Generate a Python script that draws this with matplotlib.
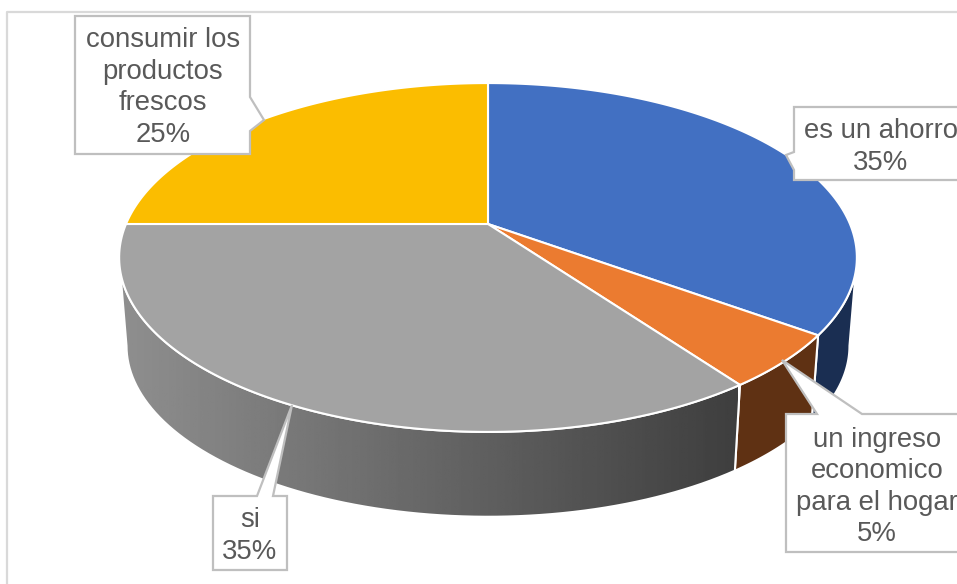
#%% Imports

import numpy as np
import matplotlib
matplotlib.use('Agg')
import matplotlib.pyplot as plt
from matplotlib.patches import Polygon

plt.rcParams['font.family'] = ['Liberation Sans', 'DejaVu Sans']

#%% Data

labels = ['es un ahorro', 'un ingreso\neconomico\npara el hogar', 'si', 'consumir los\nproductos\nfrescos']
values = [35, 5, 35, 25]
top_colors = ['#4270C2', '#EB7B30', '#A3A3A3', '#FBBD00']
side_colors = ['#1A2E52', '#5F3113', None, None]

#%% Projection of the tilted disc, axes are in pixels of the picture

cx, cy = 488, 224
rx, ry, persp = 362, 168, 0.192
depth_y, depth_s = 313, 0.98
txt_col = '#595959'
box_col = '#BFBFBF'


def top_rim(theta):
    u, v = np.sin(theta), np.cos(theta)
    w = 1 + persp * v
    return cx + rx * u / w, cy - ry * v / w


def low_rim(theta):
    x, y = top_rim(theta)
    return cx + depth_s * (x - cx), depth_y + depth_s * (y - cy)


def side_poly(t0, t1):
    t = np.linspace(t0, t1, 80)
    x0, y0 = top_rim(t)
    x1, y1 = low_rim(t)
    return np.column_stack([np.r_[x0, x1[::-1]], np.r_[y0, y1[::-1]]])


#%% Figure

fig = plt.figure(figsize=(9.57, 5.84), dpi=100)
ax = fig.add_axes([0, 0, 1, 1])
ax.set_xlim(0, 957)
ax.set_ylim(584, 0)
ax.axis('off')

# chart frame, only top and left show in the crop
ax.plot([7, 7, 957], [584, 12, 12], color='#D9D9D9', lw=1.6, zorder=1)

edges = np.r_[0, np.cumsum(values)] / np.sum(values) * 2 * np.pi
vis_start = np.arccos(-persp)
vis_end = 2 * np.pi - vis_start

#%% Side walls, only the front part can be seen

for i in range(len(values)):
    t0 = max(edges[i], vis_start)
    t1 = min(edges[i + 1], vis_end)
    if t1 <= t0:
        continue
    pts = side_poly(t0, t1)
    if side_colors[i] is not None:
        ax.add_patch(Polygon(pts, closed=True, fc=side_colors[i], ec='white', lw=1.5, zorder=2))
    else:
        # grey slice has a left to right gradient
        patch = Polygon(pts, closed=True, fc='none', ec='white', lw=1.5, zorder=3)
        ax.add_patch(patch)
        grad = np.linspace(0.56, 0.245, 256).reshape(1, -1)
        im = ax.imshow(grad, extent=[119, 738, 520, 250], cmap='gray', vmin=0, vmax=1,
                       aspect='auto', zorder=2)
        im.set_clip_path(patch)
ax.set_xlim(0, 957)
ax.set_ylim(584, 0)

#%% Top surface

for i in range(len(values)):
    t = np.linspace(edges[i], edges[i + 1], 120)
    x, y = top_rim(t)
    pts = np.column_stack([np.r_[cx, x], np.r_[cy, y]])
    ax.add_patch(Polygon(pts, closed=True, fc=top_colors[i], ec='white', lw=1.5, zorder=4))

#%% Data labels with callouts


def callout(pts, text, tx, ty, pct):
    ax.add_patch(Polygon(pts, closed=True, fc='white', ec=box_col, lw=1.6, joinstyle='miter',
                         zorder=5, clip_on=True))
    ax.text(tx, ty, '%s\n%d%%' % (text, pct), ha='center', va='center', color=txt_col,
            fontsize=19.8, linespacing=1.28, zorder=6)


callout([(75, 16), (250, 16), (250, 97), (264, 120), (250, 131), (250, 154), (75, 154)],
        labels[3], 163, 87.5, values[3])
callout([(794, 107), (975, 107), (975, 180), (794, 180), (794, 170), (786, 155), (794, 152)],
        labels[0], 881, 147, values[0])
callout([(786, 414), (817, 414), (782, 360), (862, 414), (975, 414), (975, 552), (786, 552)],
        labels[1], 877, 487, values[1])
callout([(213, 496), (257, 496), (292, 405), (273, 496), (287, 496), (287, 570), (213, 570)],
        labels[2], 250, 536, values[2])

plt.savefig('out.png', dpi=100)
